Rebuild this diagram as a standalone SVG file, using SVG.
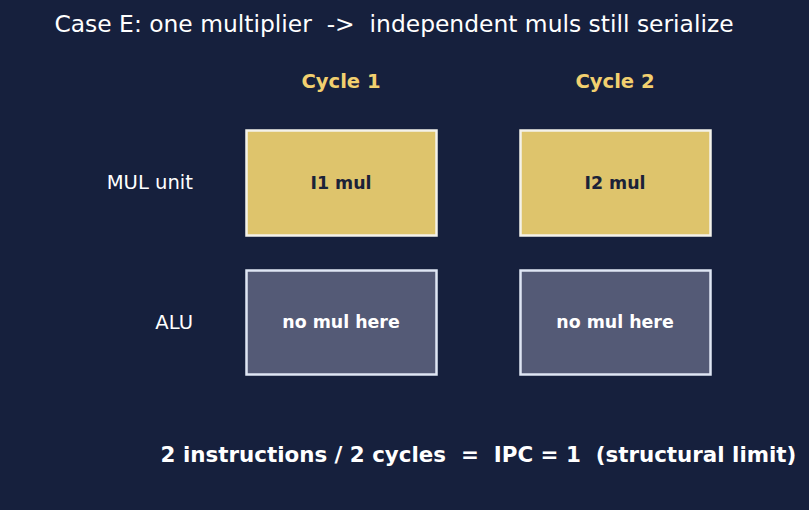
<svg xmlns="http://www.w3.org/2000/svg" width="809" height="510" viewBox="0 0 809 510">
<style>
text{font-family:"DejaVu Sans",Verdana,sans-serif;white-space:pre}
.title{font-size:23.4px;fill:#ffffff}
.cyc{font-size:19.6px;font-weight:bold;fill:#f2d06f;text-anchor:middle}
.row{font-size:19.6px;fill:#ffffff;text-anchor:end}
.mul rect{fill:#dec46c;stroke:#f4f2ea;stroke-width:2.5}
.mul text{font-size:17.4px;font-weight:bold;fill:#1b2238;text-anchor:middle}
.alu rect{fill:#545a76;stroke:#dfe6f4;stroke-width:2.5}
.alu text{font-size:17.4px;font-weight:bold;fill:#ffffff;text-anchor:middle}
.foot{font-size:21.4px;font-weight:bold;fill:#ffffff}
</style>
<rect width="809" height="510" fill="#16203d"/>
<text class="title" x="394" y="32" text-anchor="middle" xml:space="preserve">Case E: one multiplier  -&gt;  independent muls still serialize</text>
<text class="cyc" x="341" y="88">Cycle 1</text>
<text class="cyc" x="615" y="88">Cycle 2</text>
<text class="row" x="193" y="189">MUL unit</text>
<text class="row" x="193" y="329">ALU</text>
<g id="n1" class="mul"><rect x="246.5" y="130.5" width="190" height="105"/><text x="341" y="189">I1 mul</text></g>
<g id="n2" class="mul"><rect x="520.5" y="130.5" width="190" height="105"/><text x="615" y="189">I2 mul</text></g>
<g id="n3" class="alu"><rect x="246.5" y="270.5" width="190" height="104"/><text x="341" y="328">no mul here</text></g>
<g id="n4" class="alu"><rect x="520.5" y="270.5" width="190" height="104"/><text x="615" y="328">no mul here</text></g>
<g id="connectors"></g>
<text class="foot" x="478.5" y="462" text-anchor="middle" xml:space="preserve">2 instructions / 2 cycles  =  IPC = 1  (structural limit)</text>
</svg>
